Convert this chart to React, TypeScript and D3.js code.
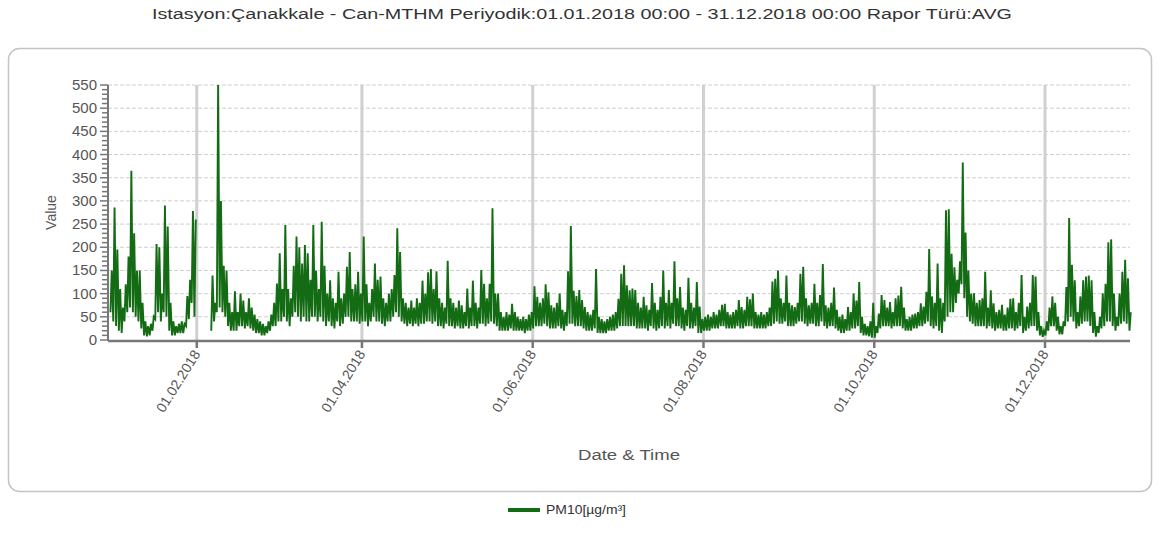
import React from 'react';
import * as d3 from 'd3';

const title = 'Istasyon:Çanakkale - Can-MTHM Periyodik:01.01.2018 00:00 - 31.12.2018 00:00 Rapor Türü:AVG';
const seriesName = 'PM10[µg/m³]';
const yTicks = [0, 50, 100, 150, 200, 250, 300, 350, 400, 450, 500, 550];
const tickMonths = [1, 3, 5, 7, 9, 11];

// daily peak / daily low (null = no data)
const dayHigh: (number | null)[] = [
  150, 286, 195, 110, 70, 120, 180, 365, 230, 150, 150, 80, 40, 30, 35, 50, 207, 200, 100, 290,
  245, 80, 40, 30, 35, 40, 35, 95, 130, 278, 260, null, null, null, null, null, 139, 80, 550, 300,
  160, 150, 80, 60, 105, 60, 100, 85, 60, 90, 70, 55, 45, 40, 35, 30, 40, 55, 80, 122,
  187, 110, 248, 110, 90, 160, 223, 200, 165, 205, 187, 130, 248, 150, 110, 255, 160, 100, 129, 90,
  80, 147, 90, 100, 158, 190, 110, 120, 147, 100, 223, 120, 80, 110, 165, 130, 137, 90, 80, 100,
  110, 140, 241, 190, 90, 80, 70, 85, 70, 90, 80, 128, 100, 146, 153, 110, 148, 90, 80, 70,
  171, 90, 80, 70, 85, 75, 60, 111, 70, 128, 80, 70, 151, 121, 90, 121, 284, 100, 100, 60,
  50, 60, 55, 78, 60, 50, 45, 50, 45, 55, 60, 116, 93, 80, 90, 120, 103, 75, 70, 80,
  100, 65, 60, 148, 246, 106, 95, 108, 86, 71, 60, 55, 65, 153, 50, 45, 40, 45, 50, 55,
  60, 89, 143, 161, 118, 107, 111, 108, 80, 70, 93, 75, 65, 123, 80, 65, 93, 150, 80, 108,
  80, 170, 90, 114, 70, 65, 134, 80, 70, 125, 72, 45, 50, 55, 50, 60, 55, 65, 76, 78,
  60, 55, 60, 65, 86, 71, 65, 93, 88, 100, 60, 55, 60, 55, 60, 70, 126, 132, 150, 90,
  80, 139, 80, 75, 71, 80, 143, 158, 90, 75, 80, 121, 80, 97, 164, 75, 70, 80, 113, 65,
  50, 55, 45, 71, 60, 100, 85, 125, 50, 35, 30, 40, 80, 30, 57, 97, 86, 70, 82, 60,
  90, 96, 115, 70, 45, 50, 55, 57, 60, 79, 72, 104, 196, 94, 80, 165, 90, 80, 280, 282,
  186, 157, 130, 170, 383, 232, 150, 100, 101, 80, 86, 90, 147, 70, 107, 79, 60, 65, 76, 55,
  70, 89, 90, 60, 80, 140, 50, 72, 80, 140, 137, 60, 30, 20, 40, 70, 94, 80, 50, 30,
  40, 114, 263, 162, 129, 60, 94, 129, 137, 139, 129, 60, 30, 50, 101, 121, 211, 217, 100, 50,
  100, 147, 173, 133, 60,
];

const dayLow: (number | null)[] = [
  60, 40, 30, 20, 15, 40, 60, 70, 60, 50, 40, 25, 10, 8, 10, 20, 45, 60, 40, 60,
  50, 20, 10, 10, 15, 15, 15, 30, 45, 80, 50, null, null, null, null, null, 20, 40, 60, 70,
  60, 50, 30, 20, 20, 20, 30, 30, 25, 30, 25, 20, 15, 15, 10, 10, 15, 20, 30, 30,
  40, 40, 50, 40, 30, 50, 60, 50, 40, 50, 40, 40, 50, 50, 40, 50, 40, 30, 40, 30,
  25, 40, 30, 35, 50, 50, 40, 40, 40, 35, 40, 40, 30, 40, 50, 40, 40, 35, 30, 40,
  40, 50, 60, 50, 40, 35, 30, 35, 30, 35, 30, 35, 35, 40, 40, 35, 40, 30, 30, 25,
  35, 30, 30, 25, 30, 25, 25, 30, 25, 30, 30, 25, 35, 35, 30, 35, 40, 35, 30, 20,
  20, 20, 20, 25, 20, 20, 20, 20, 15, 20, 20, 25, 30, 30, 30, 35, 30, 25, 25, 25,
  30, 25, 20, 30, 35, 35, 30, 30, 30, 25, 20, 20, 20, 25, 15, 15, 15, 15, 20, 20,
  20, 25, 30, 30, 30, 30, 30, 30, 25, 25, 25, 25, 20, 30, 25, 20, 25, 30, 25, 30,
  25, 35, 30, 30, 25, 20, 30, 25, 25, 30, 15, 15, 20, 20, 20, 25, 25, 25, 30, 30,
  25, 25, 25, 25, 30, 25, 25, 30, 30, 30, 25, 25, 25, 25, 25, 30, 30, 35, 40, 35,
  35, 40, 30, 30, 30, 35, 40, 40, 35, 30, 35, 35, 30, 30, 40, 30, 25, 30, 30, 25,
  20, 15, 15, 20, 20, 25, 25, 30, 15, 10, 10, 8, 5, 5, 15, 25, 30, 30, 30, 25,
  30, 30, 30, 25, 20, 20, 20, 25, 25, 30, 30, 35, 40, 30, 25, 30, 20, 15, 40, 50,
  60, 60, 80, 100, 120, 90, 50, 40, 35, 30, 30, 30, 30, 25, 30, 25, 20, 25, 25, 20,
  20, 25, 25, 20, 25, 30, 15, 20, 25, 30, 30, 20, 10, 7, 10, 20, 30, 30, 20, 12,
  12, 30, 40, 50, 40, 25, 30, 35, 40, 40, 30, 15, 7, 15, 25, 30, 40, 40, 30, 20,
  30, 35, 40, 35, 20,
];

type Pt = { t: Date; v: number | null };

const points: Pt[] = [];
dayHigh.forEach((h, d) => {
  const l = dayLow[d];
  points.push({ t: new Date(2018, 0, 1 + d, 4), v: l });
  points.push({ t: new Date(2018, 0, 1 + d, 15), v: h });
});

const W = 1160;
const H = 547;
const margin = { top: 85, right: 31, bottom: 207, left: 110 };
const plotBottom = H - margin.bottom;
const FONT = '"Liberation Sans", Arial, sans-serif';

const x = d3.scaleTime()
  .domain([new Date(2018, 0, 1), new Date(2018, 11, 31)])
  .range([margin.left, W - margin.right]);

const y = d3.scaleLinear()
  .domain([0, 550])
  .range([plotBottom, margin.top]);

const line = d3.line<Pt>()
  .defined(d => d.v !== null)
  .x(d => x(d.t))
  .y(d => y(d.v as number));

const fmt = d3.timeFormat('%d.%m.%Y');

const App: React.FC = () => {
  const axisX = 108;
  const axisRight = W - margin.right + 1;
  const tickDates = tickMonths.map(m => new Date(2018, m, 1));
  const minor = d3.range(0, 551, 10);

  return (
    <div style={{ position: 'absolute', left: 0, top: 0 }}>
      <svg width={W} height={H} style={{ display: 'block', background: '#fff' }} fontFamily={FONT}>
        <text x={582} y={19} textAnchor="middle" fontSize={14} fill="#333"
          textLength={860} lengthAdjust="spacingAndGlyphs">{title}</text>

        <rect x={8.5} y={48.5} width={1143} height={443} rx={11} fill="#fff" stroke="#c4c4c4" strokeWidth={1.5} />

        {/* horizontal grid */}
        {yTicks.filter(v => v > 0).map(v => (
          <line key={'g' + v} x1={axisX} x2={axisRight} y1={y(v)} y2={y(v)}
            stroke="#cfcfcf" strokeWidth={1} strokeDasharray="4,2" />
        ))}
        {/* vertical grid */}
        {tickDates.map((d, i) => (
          <line key={'v' + i} x1={x(d)} x2={x(d)} y1={margin.top} y2={plotBottom}
            stroke="#d0d0d0" strokeWidth={3} />
        ))}

        <path d={line(points) || ''} fill="none" stroke="#136b13" strokeWidth={1.9} />

        {/* y axis */}
        <line x1={axisX} x2={axisX} y1={margin.top} y2={plotBottom + 1} stroke="#777" strokeWidth={2} />
        {minor.map(v => (
          <line key={'m' + v} x1={v % 50 === 0 ? axisX - 8 : axisX - 6} x2={axisX} y1={y(v)} y2={y(v)}
            stroke="#777" strokeWidth={1.5} />
        ))}
        {yTicks.map(v => (
          <text key={'t' + v} x={97} y={y(v) + 5} textAnchor="end" fontSize={15} fill="#555">{v}</text>
        ))}
        <text transform={`translate(56,${(margin.top + plotBottom) / 2}) rotate(-90)`} textAnchor="middle"
          fontSize={14} fill="#555">Value</text>

        {/* x axis */}
        <line x1={axisX} x2={axisRight} y1={plotBottom + 1} y2={plotBottom + 1} stroke="#777" strokeWidth={2.5} />
        {tickDates.map((d, i) => (
          <g key={'x' + i}>
            <line x1={x(d)} x2={x(d)} y1={plotBottom} y2={plotBottom + 8} stroke="#777" strokeWidth={2.5} />
            <text transform={`translate(${x(d) + 4},${plotBottom + 14}) rotate(-58)`} textAnchor="end"
              fontSize={14} fill="#555">{fmt(d)}</text>
          </g>
        ))}
        <text x={629} y={460} textAnchor="middle" fontSize={14} fill="#555"
          textLength={102} lengthAdjust="spacingAndGlyphs">Date &amp; Time</text>

        {/* legend */}
        <line x1={508} x2={540} y1={510} y2={510} stroke="#136b13" strokeWidth={4} />
        <text x={546} y={514} fontSize={12} fill="#333" textLength={80} lengthAdjust="spacingAndGlyphs">{seriesName}</text>
      </svg>
    </div>
  );
};

export default App;
